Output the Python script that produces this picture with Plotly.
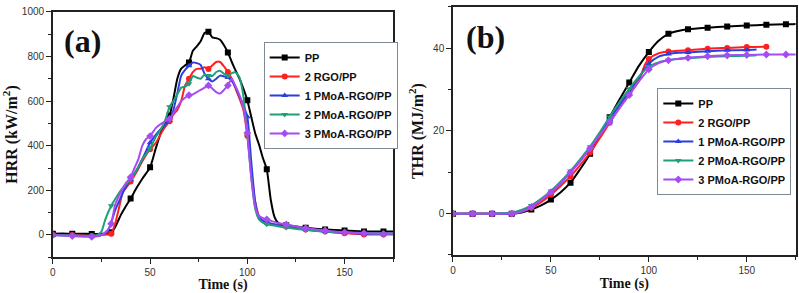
import plotly.graph_objects as go

# ---------------- data: HRR (a) ----------------
series_names = ["PP", "2 RGO/PP", "1 PMoA-RGO/PP", "2 PMoA-RGO/PP", "3 PMoA-RGO/PP"]

hrr_t_pp = [0,5,10,15,20,25,28,30,32,35,38,40,43,46,50,53,56,60,62,64,66,68,70,72,74,76,78,80,82,84,86,88,90,92,94,96,98,100,102,104,106,108,110,112,114,116,118,120,125,130,140,150,160,170,175]
hrr_v_pp = [6,7,5,6,4,5,7,12,35,90,135,163,210,252,303,390,470,535,610,700,745,760,773,825,845,868,905,910,885,882,875,850,818,775,736,700,655,604,530,457,405,345,295,160,80,52,46,44,38,32,24,20,16,15,15]

hrr_t_rgo = [0,10,20,25,28,30,32,34,36,38,40,43,46,50,53,56,58,60,62,64,66,68,70,72,74,76,78,80,82,84,86,88,90,92,94,96,98,100,102,104,106,108,110,115,120,130,140,150,160,170,175]
hrr_v_rgo = [0,0,-5,0,2,5,50,120,193,215,240,281,330,384,413,460,487,510,540,560,600,670,700,730,744,745,751,744,760,775,775,755,730,700,655,610,560,445,290,150,85,62,55,45,38,25,15,8,2,2,2]

hrr_t_p1 = [0,10,20,25,28,30,32,34,37,40,43,46,50,53,56,60,62,64,66,68,70,72,74,76,78,80,82,84,86,88,90,92,94,96,98,100,102,104,106,108,110,115,120,130,140,150,160,170,175]
hrr_v_p1 = [0,-2,-5,0,15,55,110,150,207,250,290,340,413,450,480,513,560,634,714,740,758,773,770,762,722,700,688,700,714,710,705,690,660,620,580,530,330,150,80,62,57,45,38,25,15,10,6,5,5]

hrr_t_p2 = [0,10,20,23,25,27,30,32,35,38,40,43,46,50,53,56,58,60,62,64,66,68,70,72,74,76,78,80,82,84,86,88,90,92,94,96,98,100,102,104,106,108,110,115,120,130,140,150,160,170,175]
hrr_v_p2 = [0,-3,-5,0,15,70,131,160,200,230,250,290,340,388,440,480,520,575,600,630,660,665,678,712,705,700,718,715,712,730,736,722,712,725,728,705,620,450,260,120,70,55,48,40,33,22,15,10,8,5,5]

hrr_t_p3 = [0,10,20,25,28,30,32,35,37,40,42,44,46,48,50,53,56,60,63,66,68,70,72,74,76,78,80,82,84,86,88,90,92,94,96,98,100,102,104,106,108,110,115,120,130,140,150,160,170,175]
hrr_v_p3 = [0,-5,-8,0,20,50,134,193,225,259,300,340,400,430,443,480,500,520,560,600,615,626,630,640,650,660,670,656,640,634,650,670,700,665,625,570,457,260,130,85,75,70,55,47,30,20,12,8,5,5]

# ---------------- data: THR (b) ----------------
thr_t_pp = [0,10,20,30,35,40,45,50,55,60,65,70,75,80,85,90,95,100,105,110,115,120,130,140,150,160,170,175]
thr_v_pp = [0,0,0,0,0.3,1.0,2.0,3.4,5.2,7.5,10.8,14.5,19.0,23.3,27.6,31.7,35.8,39.1,41.8,43.5,44.2,44.6,45.0,45.3,45.5,45.7,45.8,45.9]

thr_t_rgo = [0,10,20,30,35,40,45,50,55,60,65,70,75,80,85,90,95,98,100,105,110,115,120,130,140,150,160]
thr_v_rgo = [0,0,0,0,0.4,1.4,2.8,4.6,6.7,9.0,11.8,14.8,18.3,22.0,25.6,29.0,32.3,36.0,37.4,38.8,39.2,39.4,39.5,39.9,40.1,40.3,40.4]

thr_t_p1 = [0,10,20,30,35,40,45,50,55,60,65,70,75,80,85,90,95,100,105,110,115,120,130,140,150,155]
thr_v_p1 = [0,0,0,0,0.5,1.8,3.4,5.2,7.4,10.0,12.8,15.8,19.2,22.8,26.3,29.6,33.0,36.3,38.0,38.6,38.9,39.0,39.3,39.5,39.6,39.7]

thr_t_p2 = [0,10,20,30,35,40,45,50,55,60,65,70,75,80,85,90,95,100,105,110,115,120,130,140,150,155]
thr_v_p2 = [0,0,0,0.3,0.9,2.0,3.6,5.5,7.8,10.3,13.2,16.2,19.7,23.4,27.0,30.2,33.2,35.6,36.6,37.1,37.4,37.6,37.9,38.1,38.2,38.3]

thr_t_p3 = [0,10,20,30,35,40,45,50,55,60,65,70,75,80,85,90,95,100,105,110,115,120,130,140,150,160,170,175]
thr_v_p3 = [0,0,0,0,0.5,1.6,3.3,5.2,7.5,10.0,12.7,15.8,19.0,22.2,25.5,28.7,32.0,34.9,36.4,37.1,37.5,37.7,38.1,38.3,38.4,38.5,38.5,38.5]

hrr_data = [(hrr_t_pp, hrr_v_pp), (hrr_t_rgo, hrr_v_rgo), (hrr_t_p1, hrr_v_p1), (hrr_t_p2, hrr_v_p2), (hrr_t_p3, hrr_v_p3)]
thr_data = [(thr_t_pp, thr_v_pp), (thr_t_rgo, thr_v_rgo), (thr_t_p1, thr_v_p1), (thr_t_p2, thr_v_p2), (thr_t_p3, thr_v_p3)]

colors = ["#000000", "#ff1f1f", "#2b3fe0", "#1f9e7a", "#a64cf2"]
symbols = ["square", "circle", "triangle-up", "triangle-down", "diamond"]

for (t, v) in hrr_data + thr_data:
    assert len(t) == len(v), (len(t), len(v))

fig = go.Figure()

def add_series(data, xa, ya, legend_name, shape, smoothing):
    for i, (t, v) in enumerate(data):
        grp = legend_name + str(i)
        fig.add_trace(go.Scatter(
            x=t, y=v, mode="lines", xaxis=xa, yaxis=ya,
            line=dict(color=colors[i], width=2, shape=shape, smoothing=smoothing),
            legendgroup=grp, showlegend=False, hoverinfo="skip"))
        mt = [a for a in t if a % 10 == 0]
        mv = [b for a, b in zip(t, v) if a % 10 == 0]
        fig.add_trace(go.Scatter(
            x=mt, y=mv, mode="markers", xaxis=xa, yaxis=ya,
            marker=dict(color=colors[i], symbol=symbols[i], size=6),
            legendgroup=grp, showlegend=False))
    for i in range(len(data)):
        grp = legend_name + str(i)
        fig.add_trace(go.Scatter(
            x=[None], y=[None], mode="lines+markers", xaxis=xa, yaxis=ya,
            name=series_names[i], legend=legend_name, legendgroup=grp,
            line=dict(color=colors[i], width=2),
            marker=dict(color=colors[i], symbol=symbols[i], size=6)))

add_series(hrr_data, "x", "y", "legend", "spline", 0.5)
add_series(thr_data, "x2", "y2", "legend2", "spline", 0.8)

axis_common = dict(
    showline=True, linecolor="#222222", linewidth=1.5, mirror=True,
    ticks="outside", ticklen=5, tickwidth=1.2, tickcolor="#222222",
    showgrid=False, zeroline=False,
    tickfont=dict(family="Liberation Sans", size=10, color="#333333"),
)
title_font = dict(family="Liberation Serif", size=14, color="#111111", weight="bold")
ytitle_font = dict(family="Liberation Serif", size=16, color="#111111", weight="bold")

fig.update_layout(
    width=799, height=293,
    margin=dict(l=0, r=0, t=0, b=0),
    paper_bgcolor="white", plot_bgcolor="white",
    xaxis=dict(domain=[0.0626, 0.4902], range=[0, 175], dtick=50, anchor="y",
               minor=dict(ticks="outside", ticklen=3, dtick=25, tickcolor="#222222"),
               title=dict(text="<b>Time (s)</b>", font=title_font, standoff=3), **axis_common),
    yaxis=dict(domain=[0.124, 0.9765], range=[-100, 1000], dtick=200, anchor="x",
               minor=dict(ticks="outside", ticklen=3, dtick=100, tickcolor="#222222"),
               title=dict(text="<b>HRR (kW/m<sup>2</sup>)</b>", font=ytitle_font, standoff=6), **axis_common),
    xaxis2=dict(domain=[0.5653, 0.9959], range=[0, 175], dtick=50, anchor="y2",
                minor=dict(ticks="outside", ticklen=3, dtick=25, tickcolor="#222222"),
                title=dict(text="<b>Time (s)</b>", font=title_font, standoff=3), **axis_common),
    yaxis2=dict(domain=[0.132, 0.9932], range=[-10, 50], dtick=20, anchor="x2",
                minor=dict(ticks="outside", ticklen=3, dtick=10, tickcolor="#222222"),
                title=dict(text="<b>THR (MJ/m<sup>2</sup>)</b>", font=ytitle_font, standoff=6), **axis_common),
    legend=dict(x=0.3275, y=0.686, xanchor="left", yanchor="middle",
                bordercolor="#7f8a96", borderwidth=1, bgcolor="white",
                font=dict(family="Liberation Sans", size=11, color="#111111", weight="bold"),
                tracegroupgap=0),
    legend2=dict(x=0.822, y=0.526, xanchor="left", yanchor="middle",
                 bordercolor="#7f8a96", borderwidth=1, bgcolor="white",
                 font=dict(family="Liberation Sans", size=11, color="#111111", weight="bold"),
                 tracegroupgap=0),
    annotations=[
        dict(text="<b>(a)</b>", x=0.1001, y=0.8737, xref="paper", yref="paper",
             showarrow=False, xanchor="center", yanchor="middle",
             font=dict(family="Liberation Serif", size=32, color="#111111")),
        dict(text="<b>(b)</b>", x=0.6058, y=0.8874, xref="paper", yref="paper",
             showarrow=False, xanchor="center", yanchor="middle",
             font=dict(family="Liberation Serif", size=32, color="#111111")),
    ],
)

fig.write_html("out.html",
               config={"displayModeBar": False},
               post_script="document.body.style.margin='0';document.body.style.overflow='hidden';")
